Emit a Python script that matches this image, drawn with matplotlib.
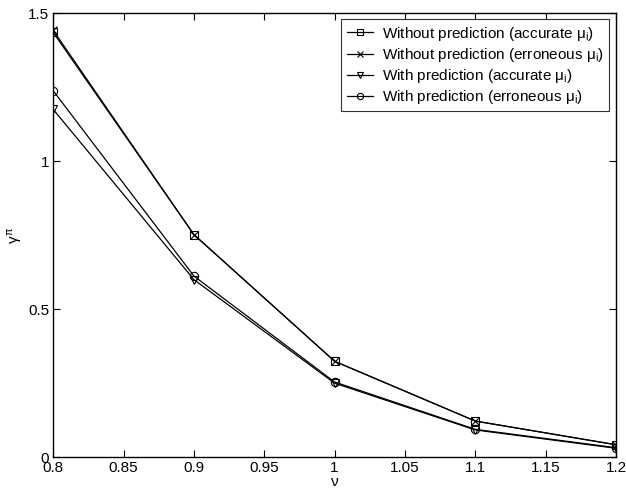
import numpy as np
import matplotlib
matplotlib.use("Agg")
import matplotlib.pyplot as plt

plt.rcParams['font.family'] = ['Liberation Sans', 'DejaVu Sans']
plt.rcParams['mathtext.fontset'] = 'custom'
plt.rcParams['mathtext.rm'] = 'Liberation Sans'
plt.rcParams['mathtext.it'] = 'Liberation Sans'

nu = [0.8, 0.9, 1.0, 1.1, 1.2]
wo_acc = [1.435, 0.752, 0.324, 0.122, 0.042]
wo_err = [1.442, 0.752, 0.324, 0.122, 0.042]
w_acc = [1.175, 0.600, 0.250, 0.092, 0.030]
w_err = [1.238, 0.612, 0.254, 0.094, 0.032]

labels = [r'Without prediction (accurate $\mathrm{\mu_i}$)',
          r'Without prediction (erroneous $\mathrm{\mu_i}$)',
          r'With prediction (accurate $\mathrm{\mu_i}$)',
          r'With prediction (erroneous $\mathrm{\mu_i}$)']

fig = plt.figure(figsize=(6.26, 4.9), dpi=100)
ax = fig.add_axes([0.085, 0.067, 0.899, 0.906])

kw = dict(color='black', lw=0.9, mfc='none', mec='black', ms=6, mew=0.8)
ax.plot(nu, wo_acc, marker='s', label=labels[0], **kw)
ax.plot(nu, wo_err, marker='x', label=labels[1], **kw)
ax.plot(nu, w_acc, marker='v', label=labels[2], **kw)
ax.plot(nu, w_err, marker='o', label=labels[3], **kw)

ax.set_xlim(0.8, 1.2)
ax.set_ylim(0, 1.5)
ax.set_xticks([0.8, 0.85, 0.9, 0.95, 1.0, 1.05, 1.1, 1.15, 1.2])
ax.set_xticklabels(['0.8', '0.85', '0.9', '0.95', '1', '1.05', '1.1', '1.15', '1.2'])
ax.set_yticks([0, 0.5, 1, 1.5])
ax.set_yticklabels(['0', '0.5', '1', '1.5'])
ax.tick_params(direction='in', top=True, right=True, labelsize=11, length=5, width=0.8, pad=3)
for s in ax.spines.values():
    s.set_linewidth(1.0)

ax.set_xlabel(r'$\nu$', fontsize=11, labelpad=0)
ax.set_ylabel(r'$\gamma^\pi$', fontsize=11, labelpad=2)

leg = ax.legend(loc='upper right', bbox_to_anchor=(0.988, 0.986), fontsize=11,
                frameon=True, fancybox=False, edgecolor='black', handlelength=1.7,
                borderpad=0.35, labelspacing=0.2, handletextpad=0.6,
                borderaxespad=0, markerscale=0.75)
leg.get_frame().set_linewidth(0.8)

fig.savefig('out.png', dpi=100)
